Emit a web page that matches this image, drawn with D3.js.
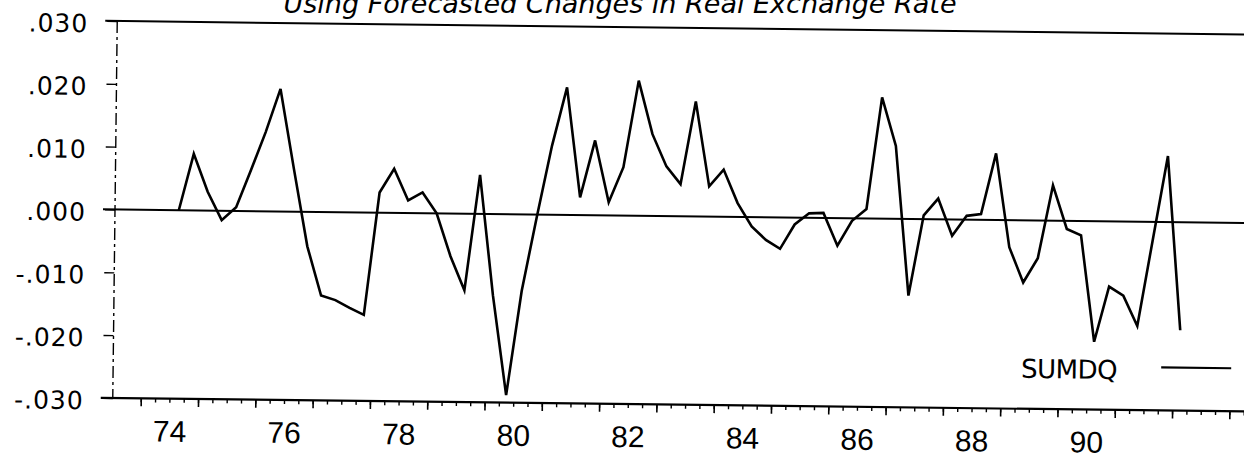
<!DOCTYPE html>
<html>
<head>
<meta charset="utf-8">
<script src="https://cdn.jsdelivr.net/npm/d3@7"></script>
<style>
  body { margin: 0; background: #fff; }
  svg { display: block; }
</style>
</head>
<body>
<svg id="chart" width="1244" height="460"></svg>
<script>
// quarterly SUMDQ values, starting 1974 Q3
var startYear = 1974, startQuarter = 3;
var sumdq = [
   0.0000,  0.0090,  0.0030, -0.0015,  0.0006,  0.0065,  0.0126,  0.0195,
   0.0068, -0.0055, -0.0133, -0.0140, -0.0152, -0.0163,  0.0032,  0.0070,
   0.0020,  0.0033,  0.0000, -0.0068, -0.0122,  0.0062, -0.0130, -0.0288,
  -0.0122, -0.0003,  0.0110,  0.0203,  0.0028,  0.0119,  0.0021,  0.0077,
   0.0215,  0.0130,  0.0079,  0.0051,  0.0183,  0.0048,  0.0075,  0.0022,
  -0.0015, -0.0036, -0.0050, -0.0011,  0.0007,  0.0008, -0.0044, -0.0004,
   0.0015,  0.0193,  0.0116, -0.0122,  0.0006,  0.0033, -0.0026,  0.0006,
   0.0009,  0.0106, -0.0043, -0.0099, -0.0060,  0.0056, -0.0013, -0.0023,
  -0.0192, -0.0104, -0.0118, -0.0166, -0.0030,  0.0105, -0.0172
];
var yTicks = [0.03, 0.02, 0.01, 0, -0.01, -0.02, -0.03];
var xLabelYears = [1974, 1976, 1978, 1980, 1982, 1984, 1986, 1988, 1990];
var title = "Using Forecasted Changes in Real Exchange Rate";
var seriesName = "SUMDQ";

var svg = d3.select("svg#chart"),
    axisX = 115, plotRight = 1262, plotTop = 21, plotBottom = 398;

// the scanned page sits a little crooked
var g = svg.append("g").attr("transform", "rotate(0.68," + axisX + ",210)");

var x = d3.scaleLinear().domain([1974, 1992]).range([143, 1174.4]);
var y = d3.scaleLinear().domain([-0.03, 0.03]).range([plotBottom, plotTop]);

var data = sumdq.map(function(v, i) {
  var q = startQuarter - 1 + i;
  return { t: startYear + Math.floor(q / 4) + ((q % 4) + 0.5) / 4, v: v };
});

function fmt(d) {
  return (d < 0 ? "-" : "") + d3.format(".3f")(Math.abs(d)).replace(/^0/, "");
}

// title (top of it runs off the page, as in the scan)
svg.append("text")
    .attr("x", 620)
    .attr("y", 13)
    .attr("text-anchor", "middle")
    .attr("font-family", "DejaVu Sans")
    .attr("font-style", "italic")
    .attr("font-size", 27)
    .text(title);

// frame lines
g.append("line")
    .attr("x1", 103).attr("x2", plotRight)
    .attr("y1", y(0.03)).attr("y2", y(0.03))
    .attr("stroke", "#000").attr("stroke-width", 2);

g.append("line")
    .attr("x1", 103).attr("x2", plotRight)
    .attr("y1", y(0)).attr("y2", y(0))
    .attr("stroke", "#000").attr("stroke-width", 2);

g.append("line")
    .attr("x1", 103).attr("x2", plotRight)
    .attr("y1", y(-0.03)).attr("y2", y(-0.03))
    .attr("stroke", "#000").attr("stroke-width", 2.2);

g.append("line")
    .attr("x1", axisX).attr("x2", axisX)
    .attr("y1", plotTop).attr("y2", plotBottom)
    .attr("stroke", "#000").attr("stroke-width", 1.4)
    .attr("stroke-dasharray", "12,4,3,4");

// y axis
var yAxis = g.append("g")
    .attr("transform", "translate(" + axisX + ",0)")
    .call(d3.axisLeft(y).tickValues(yTicks).tickSize(10).tickPadding(19).tickFormat(fmt));
yAxis.select(".domain").remove();
yAxis.selectAll("line").attr("stroke-width", 1.4);
yAxis.selectAll("text")
    .attr("dy", "0.44em")
    .attr("font-family", "DejaVu Sans")
    .attr("font-size", 25)
    .attr("letter-spacing", 1)
    .attr("fill", "#000");

// x axis: quarter ticks, year ticks, labels at mid-year
var quarters = d3.range(1974, 1993.5, 0.25);
var xMinor = g.append("g")
    .attr("transform", "translate(0," + plotBottom + ")")
    .call(d3.axisBottom(x).tickValues(quarters).tickSize(4).tickFormat(""));
xMinor.select(".domain").remove();
xMinor.selectAll("line").attr("stroke-width", 1.4);

var xMajor = g.append("g")
    .attr("transform", "translate(0," + plotBottom + ")")
    .call(d3.axisBottom(x).tickValues(d3.range(1974, 1994)).tickSize(8).tickFormat(""));
xMajor.select(".domain").remove();
xMajor.selectAll("line").attr("stroke-width", 1.6);

var xLab = g.append("g")
    .attr("transform", "translate(0," + plotBottom + ")")
    .call(d3.axisBottom(x)
      .tickValues(xLabelYears.map(function(d) { return d + 0.5; }))
      .tickSize(0)
      .tickFormat(function(d) { return String(Math.floor(d)).slice(2); }));
xLab.select(".domain").remove();
xLab.selectAll("text")
    .attr("y", 43)
    .attr("dy", 0)
    .attr("font-family", "Liberation Sans")
    .attr("font-size", 30)
    .attr("fill", "#000");

// the series
var line = d3.line()
    .x(function(d) { return x(d.t); })
    .y(function(d) { return y(d.v); });

g.append("path")
    .datum(data)
    .attr("fill", "none")
    .attr("stroke", "#000")
    .attr("stroke-width", 2.6)
    .attr("stroke-linejoin", "miter")
    .attr("d", line);

// legend
g.append("text")
    .attr("x", 1023)
    .attr("y", 367)
    .attr("font-family", "DejaVu Sans")
    .attr("font-size", 26)
    .attr("letter-spacing", -0.5)
    .text(seriesName);

g.append("line")
    .attr("x1", 1163).attr("x2", 1233)
    .attr("y1", 355).attr("y2", 355)
    .attr("stroke", "#000").attr("stroke-width", 2.2);
</script>
</body>
</html>
